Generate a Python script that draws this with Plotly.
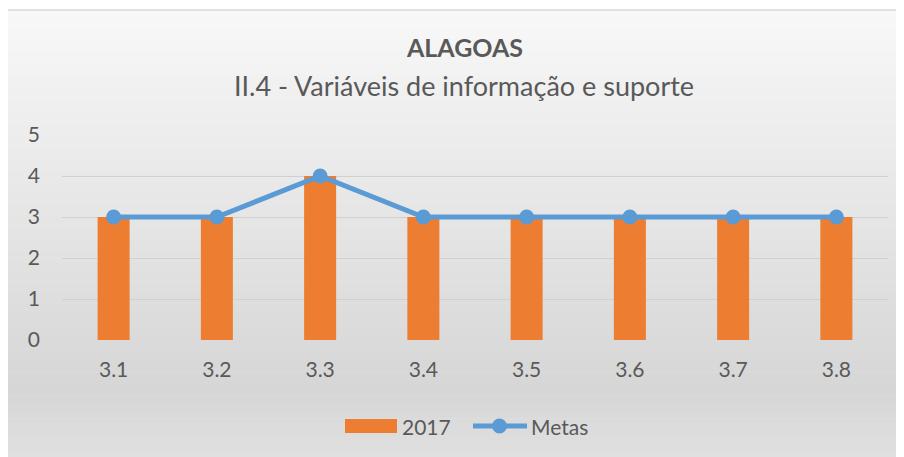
import plotly.graph_objects as go

categories = ["3.1", "3.2", "3.3", "3.4", "3.5", "3.6", "3.7", "3.8"]
values_2017 = [3, 3, 4, 3, 3, 3, 3, 3]
values_metas = [3, 3, 4, 3, 3, 3, 3, 3]
y_ticks = [0, 1, 2, 3, 4, 5]

FONT = "Lato, Open Sans, sans-serif"
TXT = "#595959"
BAR_C = "#ed7d31"
LINE_C = "#5b9bd5"

W, H = 904, 457
OFF = 8  # page body margin offset
L, R, T, B = 62 - OFF, 888 - OFF, 135 - OFF, 340 - OFF


def px_x(px):
    return (px - OFF - L) / (R - L)


def px_y(py):
    return (B - (py - OFF)) / (B - T)


fig = go.Figure()
fig.add_trace(go.Bar(x=categories, y=values_2017, name="2017", showlegend=False,
                     marker=dict(color=BAR_C, line=dict(width=0))))
fig.add_trace(go.Scatter(x=categories, y=values_metas, name="Metas", showlegend=False,
                         mode="lines+markers",
                         line=dict(color=LINE_C, width=5),
                         marker=dict(color=LINE_C, size=15)))

shapes = []
bx0, bx1, by0, by1 = 7, 912, 10, 470
stops = [(10, 248), (120, 238), (300, 222), (390, 214), (470, 226)]


def shade(y):
    for (ya, ca), (yb, cb) in zip(stops, stops[1:]):
        if ya <= y <= yb:
            return ca + (cb - ca) * (y - ya) / (yb - ya)
    return stops[-1][1]


n = 80
for i in range(n):
    ya = by0 + (by1 - by0) * i / n
    yb = by0 + (by1 - by0) * (i + 1) / n
    c = round(shade((ya + yb) / 2))
    shapes.append(dict(type="rect", xref="paper", yref="paper",
                       x0=px_x(bx0), x1=px_x(bx1), y0=px_y(yb + 0.6), y1=px_y(ya),
                       layer="below",
                       fillcolor="rgb(%d,%d,%d)" % (c, c, c), line=dict(width=0)))
shapes.append(dict(type="rect", xref="paper", yref="paper",
                   x0=px_x(bx0), x1=px_x(bx1), y0=px_y(by1), y1=px_y(by0), layer="below",
                   fillcolor="rgba(0,0,0,0)",
                   line=dict(color="#d9d9d9", width=1.5)))

# custom legend (Excel style)
shapes.append(dict(type="rect", xref="paper", yref="paper",
                   x0=px_x(345), x1=px_x(397), y0=px_y(433), y1=px_y(419),
                   fillcolor=BAR_C, line=dict(width=0)))
shapes.append(dict(type="line", xref="paper", yref="paper",
                   x0=px_x(473), x1=px_x(527), y0=px_y(426), y1=px_y(426),
                   line=dict(color=LINE_C, width=5)))
shapes.append(dict(type="circle", xref="paper", yref="paper",
                   x0=px_x(492), x1=px_x(507), y0=px_y(433.5), y1=px_y(418.5),
                   fillcolor=LINE_C, line=dict(width=0)))

fig.update_layout(
    width=W, height=H,
    margin=dict(l=L, r=W - R, t=T, b=H - B, autoexpand=False),
    paper_bgcolor="white", plot_bgcolor="rgba(0,0,0,0)",
    font=dict(family=FONT, color=TXT, size=21),
    shapes=shapes,
    bargap=0.69,
    showlegend=False,
    xaxis=dict(showgrid=False, zeroline=False, showline=False, ticks="",
               ticklabelstandoff=15, tickfont=dict(size=21, color=TXT)),
    yaxis=dict(range=[0, 5], tickvals=y_ticks, showgrid=True, gridcolor="#d0d0d0",
               gridwidth=1, zeroline=False, showline=False, ticks="",
               ticklabelstandoff=21, tickfont=dict(size=21, color=TXT)),
)
fig.add_annotation(text="<b>ALAGOAS</b>", xref="paper", yref="paper",
                   x=px_x(464), y=px_y(47), yanchor="middle", showarrow=False,
                   font=dict(size=25, color=TXT, family=FONT))
fig.add_annotation(text="II.4 - Variáveis de informação e suporte", xref="paper", yref="paper",
                   x=px_x(464), y=px_y(85), yanchor="middle", showarrow=False,
                   font=dict(size=27, color=TXT, family=FONT))
fig.add_annotation(text="2017", xref="paper", yref="paper",
                   x=px_x(400), y=px_y(426), xanchor="left", yanchor="middle", showarrow=False,
                   font=dict(size=21, color=TXT, family=FONT))
fig.add_annotation(text="Metas", xref="paper", yref="paper",
                   x=px_x(529), y=px_y(426), xanchor="left", yanchor="middle", showarrow=False,
                   font=dict(size=21, color=TXT, family=FONT))
fig.write_html("out.html")
